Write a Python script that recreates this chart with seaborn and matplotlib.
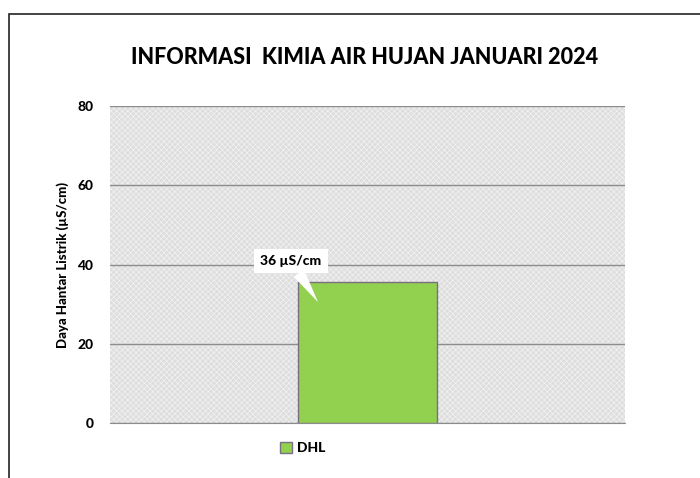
import matplotlib
matplotlib.use("Agg")
import matplotlib.pyplot as plt
import seaborn as sns
import pandas as pd
from matplotlib.patches import Rectangle

# data
parameters = ["DHL"]
values = [35.5]
value_labels = ["36 µS/cm"]
y_ticks = [0, 20, 40, 60, 80]

df = pd.DataFrame({"param": parameters, "nilai": values})

sns.set_style("white")
plt.rcParams["font.family"] = ["Lato", "DejaVu Sans"]
plt.rcParams["hatch.linewidth"] = 0.4
plt.rcParams["text.color"] = "black"
plt.rcParams["ytick.color"] = "black"
plt.rcParams["axes.labelcolor"] = "black"

fig = plt.figure(figsize=(7, 4.78), dpi=100)
ax = fig.add_axes([110 / 700, 1 - 423 / 478, 515 / 700, 317 / 478])

# outer frame of the chart box
fig.patches.append(Rectangle((8.5 / 700, -0.1), 1.2, 1 - 14 / 478 + 0.1,
                             transform=fig.transFigure, fill=False,
                             edgecolor="#222222", linewidth=1.2))

# dotted grey plot area
ax.add_patch(Rectangle((0, 0), 1, 1, transform=ax.transAxes, facecolor="#dedede",
                       edgecolor="#f6f6f6", hatch="xxxxxx", linewidth=0, zorder=0))

sns.barplot(data=df, x="param", y="nilai", hue="param", palette=["#92d050"],
            saturation=1, width=0.268, edgecolor="#7a6f80", linewidth=1, ax=ax,
            zorder=3, legend=True)

ax.set_ylim(0, 80)
ax.set_xlim(-0.5, 0.5)
ax.set_yticks(y_ticks)
ax.set_yticklabels([str(t) for t in y_ticks], fontweight="black", fontsize=10)
ax.tick_params(axis="y", length=0, pad=12)
ax.set_xticks([])
ax.set_xlabel("")
ax.set_ylabel("Daya Hantar Listrik (µS/cm)", fontweight="black", fontsize=9.5, labelpad=6)
ax.grid(axis="y", color="#8c8c8c", linewidth=1, zorder=1)
ax.set_axisbelow(True)
for s in ["left", "right", "top"]:
    ax.spines[s].set_visible(False)
ax.spines["bottom"].set_color("#8c8c8c")

# callout label
for i, (v, lab) in enumerate(zip(values, value_labels)):
    ax.annotate(lab, xy=(i - 0.096, v - 5), xytext=(i - 0.149, v + 5.4),
                ha="center", va="center", fontsize=10, fontweight="black", zorder=5,
                bbox=dict(boxstyle="square,pad=0.45", fc="white", ec="none"),
                arrowprops=dict(arrowstyle="wedge,tail_width=0.9,shrink_factor=0.5",
                                fc="white", ec="none", shrinkA=0, shrinkB=0))

fig.suptitle("INFORMASI  KIMIA AIR HUJAN JANUARI 2024", x=365 / 700, y=1 - 57 / 478,
             va="center", fontsize=15.5, fontweight="black")

sns.move_legend(ax, "center", bbox_to_anchor=(303 / 700, 1 - 448 / 478),
                bbox_transform=fig.transFigure, frameon=False, title=None,
                prop={"weight": "black", "size": 10}, handlelength=0.8,
                handleheight=0.8, handletextpad=0.4)

fig.savefig("out.png", dpi=100, facecolor="white")
